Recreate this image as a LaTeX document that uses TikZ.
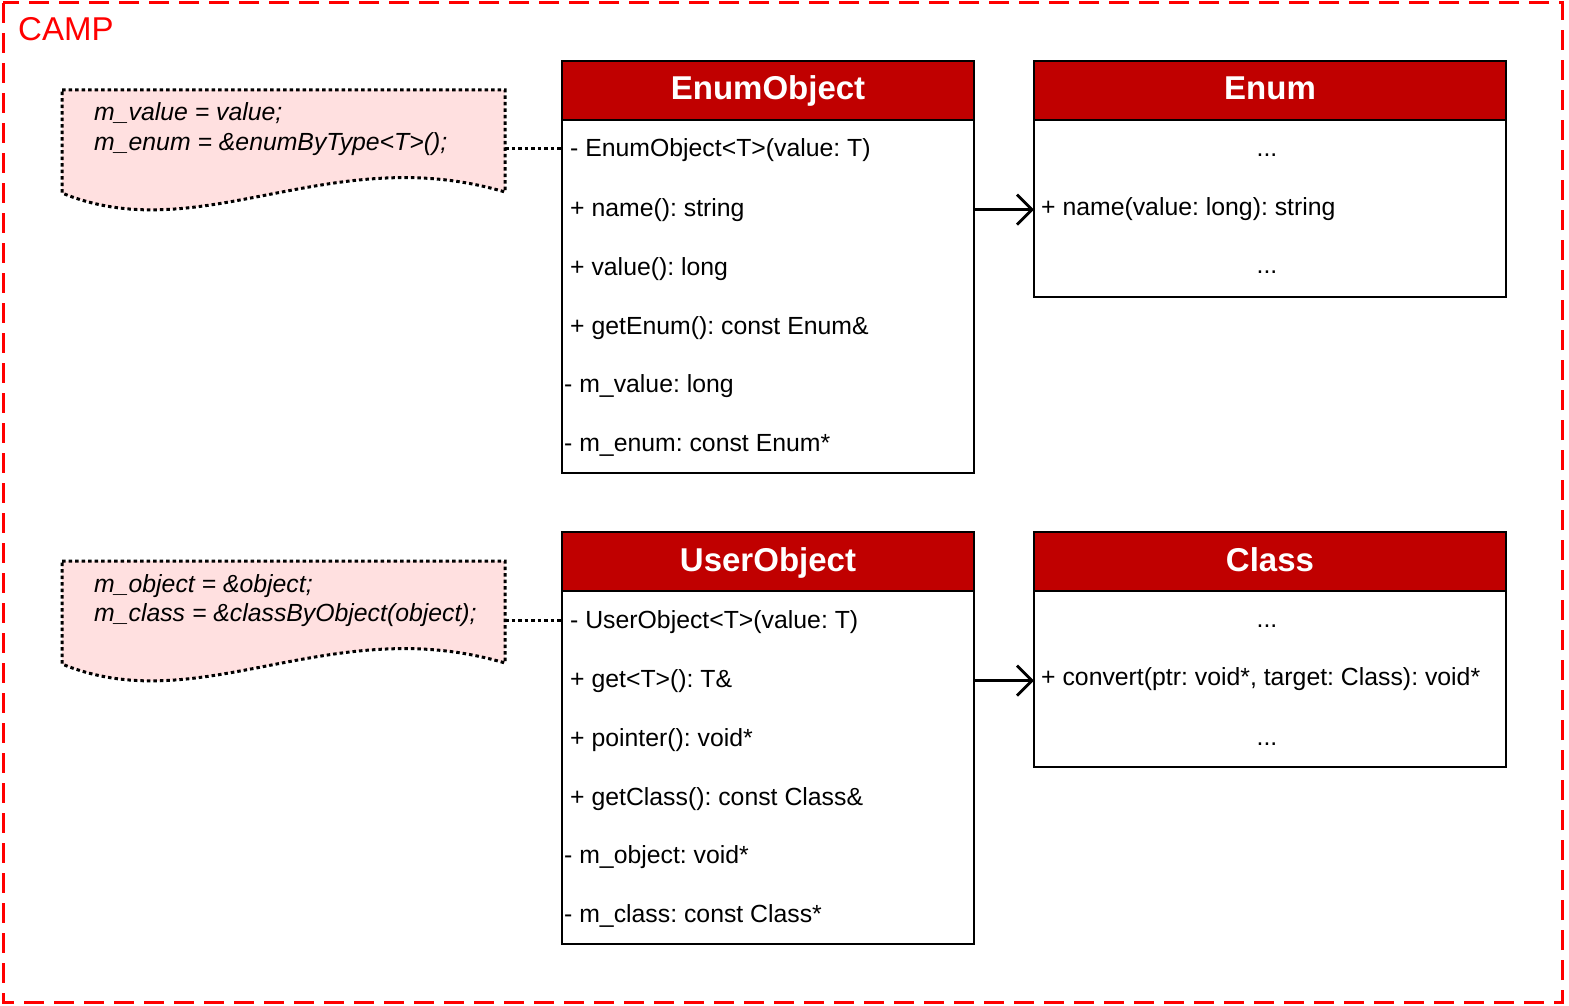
\documentclass[tikz,border=0pt]{standalone}
\usepackage{fontspec}
\setmainfont{Liberation Sans}
\usetikzlibrary{arrows.meta}
\definecolor{hdr}{RGB}{192,0,0}
\definecolor{notefill}{RGB}{255,224,224}
\definecolor{campred}{RGB}{255,0,0}
\frenchspacing
\begin{document}
\begin{tikzpicture}[x=1pt,y=-1pt,
  frame/.style={draw=campred, line width=3pt, dash pattern=on 20pt off 10pt},
  classbox/.style={draw=black, line width=2.8pt, fill=white, anchor=north west, inner sep=0pt, outer sep=0pt, minimum width=#1},
  header/.style={draw=black, line width=2.8pt, fill=hdr, anchor=north west, inner sep=0pt, outer sep=0pt, minimum width=#1, minimum height=59pt},
  title/.style={anchor=base, text=white, font=\fontsize{33}{36}\selectfont\bfseries, inner sep=0pt},
  member/.style={anchor=base west, font=\fontsize{24.8}{28}\selectfont, inner sep=0pt},
  ellip/.style={anchor=base, font=\fontsize{24.8}{28}\selectfont, inner sep=0pt},
  notebox/.style={draw=black, line width=3pt, fill=notefill, dash pattern=on 3.5pt off 3pt},
  notetext/.style={anchor=base west, font=\fontsize{24.8}{28}\selectfont\itshape, inner sep=0pt},
  link/.style={line width=3pt, dash pattern=on 3.5pt off 3pt},
  assoc/.style={line width=2.8pt, -{Straight Barb[length=15pt,width=30pt,line width=2.8pt]}}
]
\useasboundingbox (0,0) rectangle (1569,1006);
\draw[frame] (3,3) rectangle (1562,1002);
\node[anchor=base west, text=campred, font=\fontsize{33}{36}\selectfont, inner sep=0pt] (camp) at (18,41) {CAMP};

% ---------- EnumObject ----------
\node[classbox=412pt, minimum height=412pt] (eo) at (562,61) {};
\node[header=412pt] (eoh) at (562,61) {};
\node[title] (eot) at (768,100) {EnumObject};
\node[member] (eo1) at (570,157) {- EnumObject<T>(value: T)};
\node[member] (eo2) at (570,216) {+ name(): string};
\node[member] (eo3) at (570,275) {+ value(): long};
\node[member] (eo4) at (570,334) {+ getEnum(): const Enum\&};
\node[member] (eo5) at (564,392) {- m\_value: long};
\node[member] (eo6) at (564,451) {- m\_enum: const Enum*};

% ---------- Enum ----------
\node[classbox=472pt, minimum height=236pt] (en) at (1034,61) {};
\node[header=472pt] (enh) at (1034,61) {};
\node[title] (ent) at (1270,100) {Enum};
\node[ellip] (en1) at (1267,157) {...};
\node[member] (en2) at (1041,215) {+ name(value: long): string};
\node[ellip] (en3) at (1267,273) {...};

% ---------- UserObject ----------
\node[classbox=412pt, minimum height=412pt] (uo) at (562,532) {};
\node[header=412pt] (uoh) at (562,532) {};
\node[title] (uot) at (768,571) {UserObject};
\node[member] (uo1) at (570,628) {- UserObject<T>(value: T)};
\node[member] (uo2) at (570,687) {+ get<T>(): T\&};
\node[member] (uo3) at (570,746) {+ pointer(): void*};
\node[member] (uo4) at (570,805) {+ getClass(): const Class\&};
\node[member] (uo5) at (564,863) {- m\_object: void*};
\node[member] (uo6) at (564,922) {- m\_class: const Class*};

% ---------- Class ----------
\node[classbox=472pt, minimum height=235pt] (cl) at (1034,532) {};
\node[header=472pt] (clh) at (1034,532) {};
\node[title] (clt) at (1270,571) {Class};
\node[ellip] (cl1) at (1267,627) {...};
\node[member] (cl2) at (1041,685) {+ convert(ptr: void*, target: Class): void*};
\node[ellip] (cl3) at (1267,745) {...};

% ---------- notes ----------
\draw[notebox] (62,90) -- (505,90) -- (505,192)
  .. controls (330,140) and (200,250) .. (62,193) -- cycle;
\coordinate (n1) at (505,149);
\node[notetext] (n1a) at (94,121) {m\_value = value;};
\node[notetext] (n1b) at (94,150) {m\_enum = \&enumByType<T>();};

\draw[notebox] (62,561) -- (505,561) -- (505,663)
  .. controls (330,611) and (200,721) .. (62,664) -- cycle;
\coordinate (n2) at (505,620);
\node[notetext] (n2a) at (94,592) {m\_object = \&object;};
\node[notetext] (n2b) at (94,621) {m\_class = \&classByObject(object);};

% ---------- connectors ----------
\draw[link] (n1) -- (eo.west |- n1);
\draw[link] (n2) -- (uo.west |- n2);
\draw[assoc] (eo.east |- eo2.center) -- (en.west |- eo2.center);
\draw[assoc] (uo.east |- uo2.center) -- (cl.west |- uo2.center);
\end{tikzpicture}
\end{document}
